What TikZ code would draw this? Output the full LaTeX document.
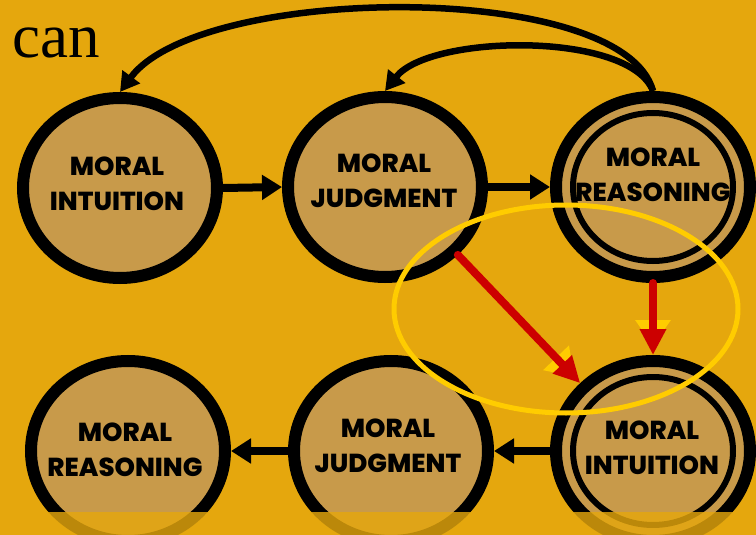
\documentclass[tikz,border=0pt]{standalone}
\usepackage{fontspec}
\newfontfamily\nodefont{Poppins}[BoldFont={Poppins ExtraBold}]
\newfontfamily\canfont{Liberation Serif}
\usetikzlibrary{arrows.meta,shapes.geometric,calc}
\definecolor{bg}{RGB}{229,167,13}
\definecolor{nodefill}{RGB}{200,154,74}
\definecolor{ringyellow}{RGB}{255,204,0}
\definecolor{redarrow}{RGB}{204,0,0}
\begin{document}
\begin{tikzpicture}[x=1pt,y=-1pt,
  circ/.style={ellipse, draw=black, fill=nodefill, line width=12pt, minimum width=194pt, minimum height=180pt, inner sep=0pt},
  lbl/.style={font=\nodefont\bfseries\fontsize{26}{35}\selectfont, align=center, inner sep=0pt},
  conn/.style={line width=8pt, -{Triangle[length=20pt,width=24pt]}},
  loopconn/.style={line width=6.5pt, -{Triangle[length=19pt,width=21pt]}},
  innerring/.style={line width=6pt},
  shadowarrow/.style={ringyellow, line width=8pt, -{Triangle[length=26pt,width=34pt]}},
  redconn/.style={redarrow, line width=8pt, line cap=round, -{Triangle[length=26pt,width=25pt]}},
  focus/.style={draw=ringyellow, line width=5pt}]
\useasboundingbox (0,0) rectangle (756,535);
\fill[bg] (0,0) rectangle (756,535);

\node[anchor=base west, inner sep=0pt, font=\canfont\fontsize{63}{70}\selectfont] (can) at (12,58) {can};

% top row
\node[circ] (MI) at (120,188) {};
\node[circ] (MJ) at (385,187) {};
\node[circ] (MR) at (653,187) {};
\draw[innerring] (MR.center) ellipse (80pt and 74pt);

% bottom row
\node[circ] (MRb) at (128,451) {};
\node[circ] (MJb) at (391,451) {};
\node[circ] (MIb) at (653,451) {};
\draw[innerring] (MIb.center) ellipse (80pt and 74pt);

% labels
\node[lbl] (tMI) at (117,184) {MORAL\\INTUITION};
\node[lbl] (tMJ) at (384,181) {MORAL\\JUDGMENT};
\node[lbl] (tMR) at (653,175) {MORAL\\REASONING};
\node[lbl] (tMRb) at (125,450) {MORAL\\REASONING};
\node[lbl] (tMJb) at (388,446) {MORAL\\JUDGMENT};
\node[lbl] (tMIb) at (652,448) {MORAL\\INTUITION};

% straight black arrows
\draw[conn] (MI.east) -- (MJ.west);
\draw[conn] (MJ.east) -- (MR.west);
\draw[conn] (MIb.west) -- (MJb.east);
\draw[conn] (MJb.west) -- (MRb.east);

% curved feedback arrows
\draw[loopconn] (MR.north) .. controls +(-30,-112) and +(80,-108) .. (MI.north);
\draw[loopconn] (MR.north) .. controls +(-23,-60) and +(45,-57) .. (MJ.north);

% highlight ellipse
\draw[focus] (566,309) ellipse (172pt and 104pt);

% red arrows with yellow shadow heads
\draw[shadowarrow, shorten >=9pt] (MJ.-43) -- (MIb.137);
\draw[shadowarrow, shorten >=9pt] (MR.south) -- (MIb.north);
\draw[redconn] (MJ.-43) -- (MIb.137);
\draw[redconn] (MR.south) -- (MIb.north);

% faded bottom band
\fill[bg, opacity=0.82] (0,512) rectangle (756,535);
\end{tikzpicture}
\end{document}
